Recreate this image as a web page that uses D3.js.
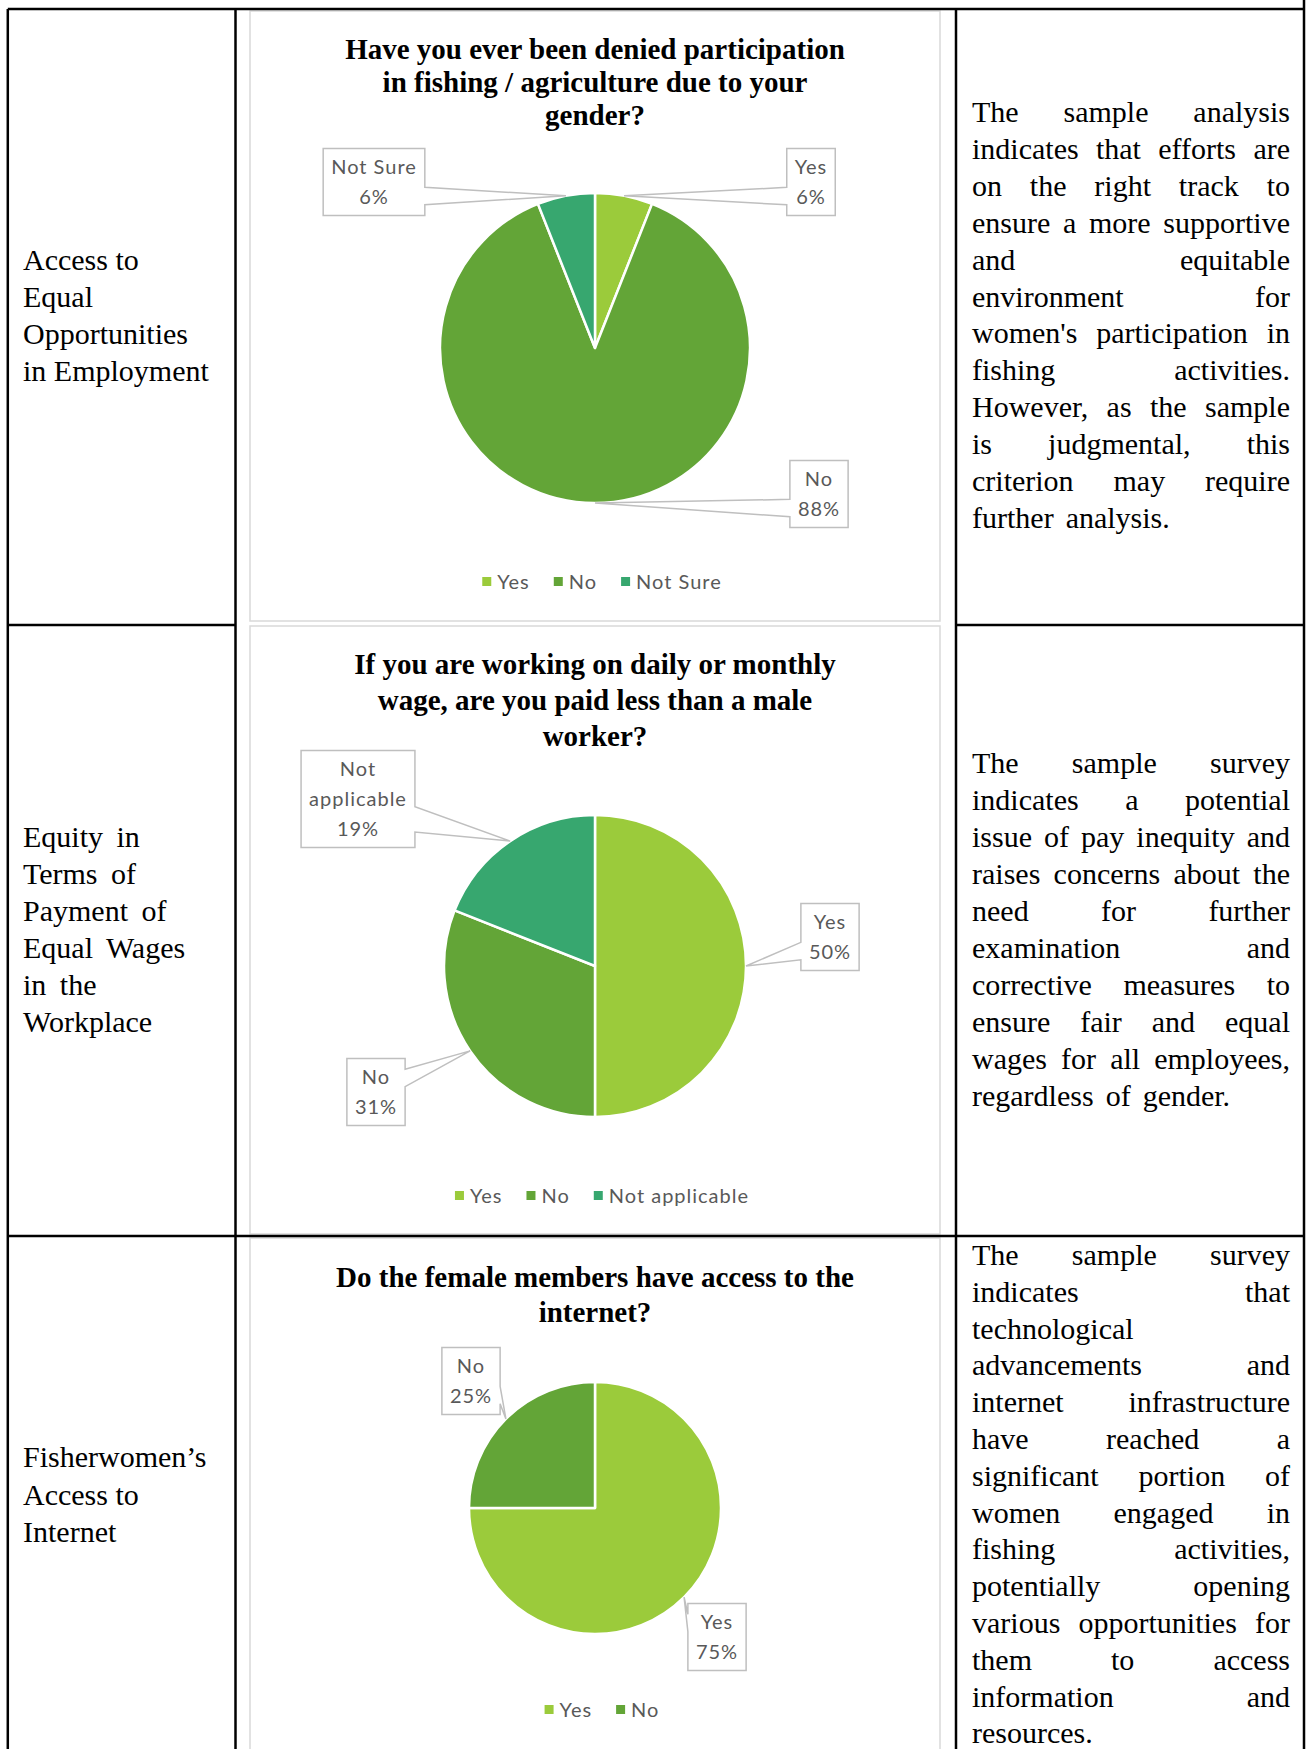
<!DOCTYPE html>
<html>
<head>
<meta charset="utf-8">
<script src="https://cdn.jsdelivr.net/npm/d3@7"></script>
<style>
  body { margin: 0; background: #fff; }
  svg { display: block; }
</style>
</head>
<body>
<script>
// DATA ==========================================================
const rowHeadings = [
  ["Access to", "Equal", "Opportunities", "in Employment"],
  ["Equity in", "Terms of", "Payment of", "Equal Wages", "in the", "Workplace"],
  ["Fisherwomen’s", "Access to", "Internet"]
];

const chartTitles = [
  ["Have you ever been denied participation", "in fishing / agriculture due to your", "gender?"],
  ["If you are working on daily or monthly", "wage, are you paid less than a male", "worker?"],
  ["Do the female members have access to the", "internet?"]
];

const denialCategories = ["Yes", "No", "Not Sure"];
const denialValues = [6, 88, 6];

const wageCategories = ["Yes", "No", "Not applicable"];
const wageValues = [50, 31, 19];

const internetCategories = ["Yes", "No"];
const internetValues = [75, 25];

const commentary = [
  ["The sample analysis", "indicates that efforts are", "on the right track to",
   "ensure a more supportive", "and equitable", "environment for",
   "women's participation in", "fishing activities.", "However, as the sample",
   "is judgmental, this", "criterion may require", "further analysis."],
  ["The sample survey", "indicates a potential", "issue of pay inequity and",
   "raises concerns about the", "need for further", "examination and",
   "corrective measures to", "ensure fair and equal", "wages for all employees,",
   "regardless of gender."],
  ["The sample survey", "indicates that", "technological", "advancements and",
   "internet infrastructure", "have reached a", "significant portion of",
   "women engaged in", "fishing activities,", "potentially opening",
   "various opportunities for", "them to access", "information and", "resources."]
];

// LAYOUT ========================================================
const width = 1313, height = 1749;
const serif = "'Liberation Serif', 'Times New Roman', serif";
const sans = "Lato, 'Open Sans', sans-serif";

const colLines = [7.8, 235.5, 956, 1304];
const rowLines = [9, 625, 1236];

const color = d3.scaleOrdinal()
  .domain(["Yes", "No", "Not Sure", "Not applicable"])
  .range(["#9BCB3B", "#63A537", "#37A76F", "#37A76F"]);

const charts = [
  { cats: denialCategories, vals: denialValues, title: chartTitles[0],
    frame: [250, 11, 940, 621], cx: 595, cy: 348, r: 155,
    titleY: 59, titleStep: 33, legendY: 582,
    boxes: { "Yes": [811, 182], "No": [819, 494], "Not Sure": [374, 182] } },
  { cats: wageCategories, vals: wageValues, title: chartTitles[1],
    frame: [250, 626, 940, 1234], cx: 595, cy: 966, r: 151,
    titleY: 674, titleStep: 36, legendY: 1196,
    boxes: { "Yes": [830, 937], "No": [376, 1092], "Not applicable": [358, 799] } },
  { cats: internetCategories, vals: internetValues, title: chartTitles[2],
    frame: [250, 1238, 940, 1760], cx: 595, cy: 1508, r: 126,
    titleY: 1287, titleStep: 35, legendY: 1710,
    boxes: { "Yes": [717, 1637], "No": [471, 1381] } }
];

const svg = d3.select("body").append("svg")
  .attr("width", width)
  .attr("height", height);

// chart frames
charts.forEach(c => {
  const [x0, y0, x1, y1] = c.frame;
  svg.append("rect")
    .attr("x", x0).attr("y", y0)
    .attr("width", x1 - x0).attr("height", y1 - y0)
    .attr("fill", "#fff")
    .attr("stroke", "#d9d9d9")
    .attr("stroke-width", 1.5);
});

// table lines
const tbl = svg.append("g").attr("stroke", "#000").attr("stroke-width", 2.5);
colLines.forEach((x, i) => {
  tbl.append("line")
    .attr("x1", x).attr("x2", x)
    .attr("y1", i === 3 ? 0 : rowLines[0]).attr("y2", height);
});
rowLines.forEach((y, i) => {
  if (i === 1) {
    // first row break is hidden behind the chart frames in the middle column
    tbl.append("line").attr("x1", colLines[0]).attr("x2", colLines[1]).attr("y1", y).attr("y2", y);
    tbl.append("line").attr("x1", colLines[2]).attr("x2", colLines[3]).attr("y1", y).attr("y2", y);
  } else {
    tbl.append("line").attr("x1", colLines[0]).attr("x2", colLines[3]).attr("y1", y).attr("y2", y);
  }
});

// left column headings
const headingY = [270, 847, 1467];
const headingStep = [37, 37, 37.5];
rowHeadings.forEach((lines, r) => {
  svg.append("g")
    .selectAll("text")
    .data(lines)
    .enter().append("text")
      .attr("x", 23)
      .attr("y", (d, i) => headingY[r] + i * headingStep[r])
      .attr("font-family", serif)
      .attr("font-size", 30)
      .attr("word-spacing", r === 1 ? 6 : 0)
      .attr("fill", "#000")
      .text(d => d);
});

// right column, justified text
function justify(g, lines, x0, x1, y0, step) {
  lines.forEach((line, i) => {
    const words = line.split(/\s+/);
    const y = y0 + i * step;
    const last = i === lines.length - 1;
    const nodes = words.map(w => g.append("text")
      .attr("y", y)
      .attr("font-family", serif)
      .attr("font-size", 30)
      .attr("fill", "#000")
      .text(w));
    const widths = nodes.map(n => n.node().getComputedTextLength());
    const gap = (!last && words.length > 1)
      ? (x1 - x0 - d3.sum(widths)) / (words.length - 1)
      : 12;
    let x = x0;
    nodes.forEach((n, k) => { n.attr("x", x); x += widths[k] + gap; });
  });
}
const commentY = [122, 773, 1265];
const commentStep = [36.9, 37, 36.8];
commentary.forEach((lines, r) => {
  justify(svg.append("g"), lines, 972, 1290, commentY[r], commentStep[r]);
});

// callout path: box with a wedge pointing at the slice
function callout(x0, y0, x1, y1, tx, ty) {
  const h = y1 - y0;
  const low = ty > (y0 + y1) / 2;
  const b1 = y0 + h * (low ? 0.58 : 0.16);
  const b2 = y0 + h * (low ? 0.84 : 0.42);
  if (tx > x1) {
    return `M${x0},${y0}H${x1}V${b1}L${tx},${ty}L${x1},${b2}V${y1}H${x0}Z`;
  }
  return `M${x0},${y0}H${x1}V${y1}H${x0}V${b2}L${tx},${ty}L${x0},${b1}Z`;
}

// PIES ==========================================================
charts.forEach(c => {
  const data = c.cats.map((k, i) => ({ key: k, value: c.vals[i] }));
  const pie = d3.pie().sort(null).value(d => d.value);
  const arcs = pie(data);
  const arc = d3.arc().innerRadius(0).outerRadius(c.r);
  const edge = d3.arc().innerRadius(c.r).outerRadius(c.r);
  const total = d3.sum(c.vals);

  const g = svg.append("g");

  // title
  g.selectAll(".title")
    .data(c.title)
    .enter().append("text")
      .attr("class", "title")
      .attr("x", c.cx)
      .attr("y", (d, i) => c.titleY + i * c.titleStep)
      .attr("text-anchor", "middle")
      .attr("font-family", serif)
      .attr("font-weight", "bold")
      .attr("font-size", 29)
      .attr("fill", "#000")
      .text(d => d);

  const pieG = g.append("g").attr("transform", `translate(${c.cx},${c.cy})`);
  pieG.selectAll("path")
    .data(arcs)
    .enter().append("path")
      .attr("d", arc)
      .attr("fill", d => color(d.data.key))
      .attr("stroke", "#fff")
      .attr("stroke-width", 2.5)
      .attr("stroke-linejoin", "round");

  // data label callouts
  arcs.forEach(a => {
    const [ex, ey] = edge.centroid(a);
    const tx = c.cx + ex, ty = c.cy + ey;
    const pct = Math.round(a.data.value / total * 100) + "%";
    const lines = (a.data.key.length > 10 ? a.data.key.split(" ") : [a.data.key]).concat([pct]);
    const [bx, by] = c.boxes[a.data.key];

    const lg = g.append("g");
    const texts = lines.map((t, i) => lg.append("text")
      .attr("x", bx)
      .attr("y", by + (i - (lines.length - 1) / 2) * 30 + 7)
      .attr("text-anchor", "middle")
      .attr("font-family", sans)
      .attr("font-size", 20)
      .attr("letter-spacing", 1)
      .attr("fill", "#595959")
      .text(t));
    const w = d3.max(texts, t => t.node().getComputedTextLength()) + 16;
    const h = lines.length * 30 + 7;
    const x0 = bx - w / 2, x1 = bx + w / 2, y0 = by - h / 2, y1 = by + h / 2;
    lg.insert("path", "text")
      .attr("d", callout(x0, y0, x1, y1, tx, ty))
      .attr("fill", "#fff")
      .attr("stroke", "#bfbfbf")
      .attr("stroke-width", 1.5)
      .attr("stroke-linejoin", "miter");
  });

  // legend
  const leg = g.append("g");
  const items = c.cats.map(k => {
    const it = leg.append("g");
    it.append("rect")
      .attr("width", 9).attr("height", 9)
      .attr("y", c.legendY - 5)
      .attr("fill", color(k));
    const t = it.append("text")
      .attr("x", 15)
      .attr("y", c.legendY + 7)
      .attr("font-family", sans)
      .attr("font-size", 20)
      .attr("letter-spacing", 1)
      .attr("fill", "#595959")
      .text(k);
    return { it, w: 15 + t.node().getComputedTextLength() };
  });
  const gapL = 24;
  const totalW = d3.sum(items, d => d.w) + gapL * (items.length - 1);
  let x = c.cx + 7 - totalW / 2;
  items.forEach(d => { d.it.attr("transform", `translate(${x},0)`); x += d.w + gapL; });
});
</script>
</body>
</html>
